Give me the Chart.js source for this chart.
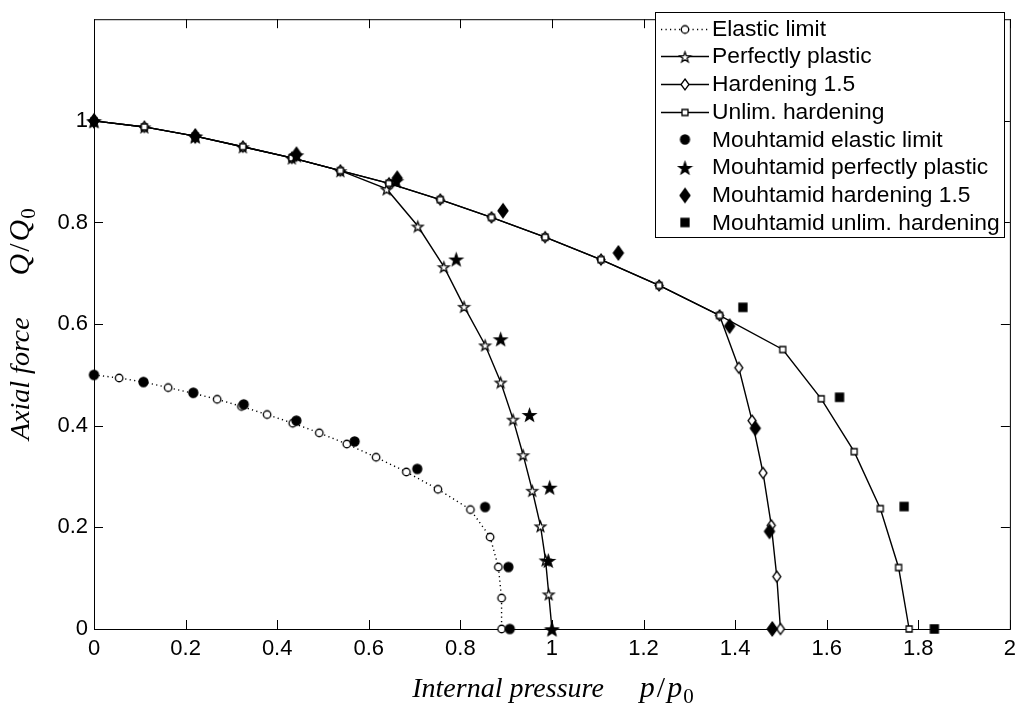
<!DOCTYPE html>
<html>
<head>
<meta charset="utf-8">
<script src="https://cdn.jsdelivr.net/npm/chart.js@4.4.0/dist/chart.umd.min.js"></script>
<style>
  html, body { margin: 0; padding: 0; background: #fff; }
  canvas { display: block; }
</style>
</head>
<body>
<canvas id="chart" width="1023" height="711"></canvas>
<script>
// Interaction curves: internal pressure p/p0 against axial force Q/Q0

const xTickValues = [0, 0.2, 0.4, 0.6, 0.8, 1, 1.2, 1.4, 1.6, 1.8, 2];
const yTickValues = [0, 0.2, 0.4, 0.6, 0.8, 1];

// Elastic limit (computed)
const elasticP = [0, 0.055, 0.108, 0.162, 0.216, 0.269, 0.322, 0.378, 0.434, 0.492, 0.552, 0.616, 0.682, 0.751, 0.822, 0.865, 0.883, 0.890, 0.890];
const elasticQ = [0.500, 0.494, 0.486, 0.475, 0.464, 0.452, 0.438, 0.422, 0.405, 0.386, 0.364, 0.338, 0.309, 0.275, 0.235, 0.181, 0.122, 0.061, 0];

// Perfectly plastic (computed)
const plasticP = [0, 0.110, 0.221, 0.325, 0.432, 0.538, 0.639, 0.707, 0.764, 0.808, 0.854, 0.888, 0.915, 0.937, 0.957, 0.975, 0.986, 0.993, 1.0];
const plasticQ = [1.0, 0.988, 0.970, 0.949, 0.927, 0.902, 0.866, 0.793, 0.713, 0.635, 0.559, 0.486, 0.413, 0.343, 0.273, 0.203, 0.136, 0.069, 0];

// Hardening 1.5 (computed)
const hard15P = [0, 0.110, 0.221, 0.325, 0.432, 0.538, 0.644, 0.756, 0.868, 0.985, 1.107, 1.234, 1.366, 1.408, 1.437, 1.461, 1.479, 1.491, 1.499];
const hard15Q = [1.0, 0.988, 0.970, 0.949, 0.927, 0.902, 0.877, 0.845, 0.810, 0.771, 0.727, 0.676, 0.617, 0.514, 0.410, 0.307, 0.204, 0.103, 0];

// Unlimited hardening (computed)
const unlimP = [0, 0.110, 0.221, 0.325, 0.432, 0.538, 0.644, 0.756, 0.868, 0.985, 1.107, 1.234, 1.366, 1.504, 1.588, 1.660, 1.717, 1.757, 1.780];
const unlimQ = [1.0, 0.988, 0.970, 0.949, 0.927, 0.902, 0.877, 0.845, 0.810, 0.771, 0.727, 0.676, 0.617, 0.550, 0.453, 0.349, 0.237, 0.121, 0];

// Mouhtamid reference results
const mElasticP = [0, 0.108, 0.217, 0.327, 0.442, 0.569, 0.706, 0.854, 0.905, 0.908];
const mElasticQ = [0.500, 0.486, 0.465, 0.442, 0.410, 0.369, 0.315, 0.240, 0.122, 0];

const mPlasticP = [0, 0.221, 0.442, 0.660, 0.791, 0.888, 0.951, 0.995, 0.992, 1.0];
const mPlasticQ = [1.0, 0.970, 0.933, 0.882, 0.728, 0.571, 0.422, 0.279, 0.135, 0];

const mHard15P = [0, 0.221, 0.442, 0.662, 0.893, 1.145, 1.388, 1.444, 1.475, 1.481];
const mHard15Q = [1.0, 0.970, 0.934, 0.887, 0.823, 0.740, 0.596, 0.395, 0.192, 0];

const mUnlimP = [1.417, 1.628, 1.769, 1.835];
const mUnlimQ = [0.633, 0.456, 0.241, 0];

const seriesLabels = [
  'Elastic limit', 'Perfectly plastic', 'Hardening 1.5', 'Unlim. hardening',
  'Mouhtamid elastic limit', 'Mouhtamid perfectly plastic', 'Mouhtamid hardening 1.5', 'Mouhtamid unlim. hardening'
];

const toPoints = (xs, ys) => xs.map((x, i) => ({ x: x, y: ys[i] }));

// Marker sprites used as point styles
function makeMarker(shape, filled, w, h) {
  const pad = 2;
  const c = document.createElement('canvas');
  c.width = Math.ceil(w + pad * 2);
  c.height = Math.ceil(h + pad * 2);
  const g = c.getContext('2d');
  const cx = c.width / 2, cy = c.height / 2;
  g.beginPath();
  if (shape === 'circle') {
    g.arc(cx, cy, w / 2, 0, Math.PI * 2);
  } else if (shape === 'square') {
    g.rect(cx - w / 2, cy - h / 2, w, h);
  } else if (shape === 'diamond') {
    g.moveTo(cx, cy - h / 2);
    g.lineTo(cx + w / 2, cy);
    g.lineTo(cx, cy + h / 2);
    g.lineTo(cx - w / 2, cy);
    g.closePath();
  } else if (shape === 'star') {
    const R = w / 2, r = R * 0.40;
    for (let k = 0; k < 10; k++) {
      const rad = (k % 2 === 0) ? R : r;
      const a = -Math.PI / 2 + k * Math.PI / 5;
      const px = cx + rad * Math.cos(a), py = cy + 1 + rad * Math.sin(a);
      if (k === 0) g.moveTo(px, py); else g.lineTo(px, py);
    }
    g.closePath();
  }
  g.fillStyle = filled ? '#000' : '#fff';
  g.fill();
  g.lineWidth = 1.3;
  g.strokeStyle = '#000';
  g.stroke();
  return c;
}

const mk = {
  openCircle: makeMarker('circle', false, 7.5, 7.5),
  openStar: makeMarker('star', false, 11, 11),
  openDiamond: makeMarker('diamond', false, 8, 11),
  openSquare: makeMarker('square', false, 6, 6),
  fillCircle: makeMarker('circle', true, 9, 9),
  fillStar: makeMarker('star', true, 13, 13),
  fillDiamond: makeMarker('diamond', true, 10, 14),
  fillSquare: makeMarker('square', true, 8, 8)
};

function lineSet(label, xs, ys, marker, dash, order) {
  return {
    label: label,
    data: toPoints(xs, ys),
    showLine: true,
    borderColor: '#000',
    borderWidth: 1.4,
    borderDash: dash,
    pointStyle: marker,
    pointRadius: 5,
    pointHoverRadius: 5,
    backgroundColor: '#000',
    clip: false,
    order: order
  };
}

function pointSet(label, xs, ys, marker, order) {
  return {
    label: label,
    data: toPoints(xs, ys),
    showLine: false,
    borderColor: '#000',
    backgroundColor: '#000',
    pointStyle: marker,
    pointRadius: 6,
    pointHoverRadius: 6,
    clip: false,
    order: order
  };
}

const datasets = [
  lineSet(seriesLabels[0], elasticP, elasticQ, mk.openCircle, [1.2, 3.3], 8),
  lineSet(seriesLabels[1], plasticP, plasticQ, mk.openStar, [], 7),
  lineSet(seriesLabels[2], hard15P, hard15Q, mk.openDiamond, [], 6),
  lineSet(seriesLabels[3], unlimP, unlimQ, mk.openSquare, [], 5),
  pointSet(seriesLabels[4], mElasticP, mElasticQ, mk.fillCircle, 4),
  pointSet(seriesLabels[5], mPlasticP, mPlasticQ, mk.fillStar, 3),
  pointSet(seriesLabels[6], mHard15P, mHard15Q, mk.fillDiamond, 2),
  pointSet(seriesLabels[7], mUnlimP, mUnlimQ, mk.fillSquare, 1)
];

const SANS = '"Liberation Sans", Arial, Helvetica, sans-serif';
const SERIF = '"Liberation Serif", "Times New Roman", Times, serif';

// Axes box with inward ticks on all four sides
const frameAndTicks = {
  id: 'frameAndTicks',
  beforeDatasetsDraw(chart) {
    const { ctx, chartArea: a, scales } = chart;
    const L = 9;
    ctx.save();
    ctx.strokeStyle = '#000';
    ctx.lineWidth = 1;
    ctx.beginPath();
    xTickValues.forEach(v => {
      const px = Math.round(scales.x.getPixelForValue(v)) + 0.5;
      ctx.moveTo(px, a.bottom); ctx.lineTo(px, a.bottom - L);
      ctx.moveTo(px, a.top); ctx.lineTo(px, a.top + L);
    });
    yTickValues.forEach(v => {
      const py = Math.round(scales.y.getPixelForValue(v)) + 0.5;
      ctx.moveTo(a.left, py); ctx.lineTo(a.left + L, py);
      ctx.moveTo(a.right, py); ctx.lineTo(a.right - L, py);
    });
    ctx.stroke();
    ctx.strokeRect(a.left + 0.5, a.top + 0.5, a.right - a.left, a.bottom - a.top);
    ctx.restore();
  }
};

// Axis titles: italic words followed by a math ratio with a subscript
function drawTitle(ctx, words, sym, gap, cx, baseline) {
  const wordFont = 'italic 28px ' + SERIF;
  const symFont = 'italic 30px ' + SERIF;
  const slashFont = '30px ' + SERIF;
  const subFont = '21px ' + SERIF;
  ctx.font = wordFont;
  const wWords = ctx.measureText(words).width;
  ctx.font = symFont;
  const wSym = ctx.measureText(sym).width;
  ctx.font = slashFont;
  const wSlash = ctx.measureText('/').width;
  ctx.font = subFont;
  const wSub = ctx.measureText('0').width;
  const total = wWords + gap + wSym + 2 + wSlash + 2 + wSym + 1 + wSub;
  let x = cx - total / 2;
  ctx.textBaseline = 'alphabetic';
  ctx.textAlign = 'left';
  ctx.font = wordFont;
  ctx.fillText(words, x, baseline);
  x += wWords + gap;
  ctx.font = symFont;
  ctx.fillText(sym, x, baseline);
  x += wSym + 2;
  ctx.font = slashFont;
  ctx.fillText('/', x, baseline);
  x += wSlash + 2;
  ctx.font = symFont;
  ctx.fillText(sym, x, baseline);
  x += wSym + 1;
  ctx.font = subFont;
  ctx.fillText('0', x, baseline + 6);
}

const titlesAndLegend = {
  id: 'titlesAndLegend',
  afterDraw(chart) {
    const { ctx, chartArea: a } = chart;
    ctx.save();
    ctx.fillStyle = '#000';
    drawTitle(ctx, 'Internal pressure', 'p', 36, (a.left + a.right) / 2 + 1, 697);
    ctx.save();
    ctx.translate(29, (a.top + a.bottom) / 2);
    ctx.rotate(-Math.PI / 2);
    drawTitle(ctx, 'Axial force', 'Q', 42, 0, 0);
    ctx.restore();

    // Legend box
    const box = { left: 655, top: 12, right: 1004, bottom: 237 };
    ctx.fillStyle = '#fff';
    ctx.fillRect(box.left, box.top, box.right - box.left, box.bottom - box.top);
    ctx.strokeStyle = '#000';
    ctx.lineWidth = 1;
    ctx.strokeRect(box.left + 0.5, box.top + 0.5, box.right - box.left, box.bottom - box.top);

    const rowH = 27.7;
    const x0 = 661, x1 = 709, xm = 685, xt = 712;
    ctx.font = '22.8px ' + SANS;
    ctx.textBaseline = 'middle';
    ctx.textAlign = 'left';
    chart.data.datasets.forEach((ds, i) => {
      const y = box.top + 16.5 + i * rowH;
      if (ds.showLine) {
        ctx.save();
        ctx.strokeStyle = '#000';
        ctx.lineWidth = ds.borderWidth;
        ctx.setLineDash(ds.borderDash || []);
        ctx.beginPath();
        ctx.moveTo(x0, Math.round(y) + 0.5);
        ctx.lineTo(x1, Math.round(y) + 0.5);
        ctx.stroke();
        ctx.restore();
      }
      Chart.helpers.drawPoint(ctx, { pointStyle: ds.pointStyle, radius: 5, rotation: 0, borderWidth: 1 }, xm, Math.round(y) + 0.5);
      ctx.fillStyle = '#000';
      ctx.fillText(ds.label, xt, y + 1);
    });
    ctx.restore();
  }
};

new Chart(document.getElementById('chart'), {
  type: 'scatter',
  data: { datasets: datasets },
  options: {
    responsive: false,
    devicePixelRatio: 1,
    animation: false,
    events: [],
    layout: { padding: { top: 4, right: 12, left: 0, bottom: 0 } },
    plugins: {
      legend: { display: false },
      tooltip: { enabled: false },
      title: { display: false }
    },
    scales: {
      x: {
        type: 'linear',
        min: 0,
        max: 2,
        afterBuildTicks: s => { s.ticks = xTickValues.map(v => ({ value: v })); },
        afterFit: s => { s.height = 82; },
        grid: { display: false, drawTicks: false },
        border: { display: false },
        ticks: {
          color: '#000',
          font: { family: SANS, size: 22 },
          padding: 7,
          maxRotation: 0,
          autoSkip: false,
          callback: v => String(Math.round(v * 10) / 10)
        }
      },
      y: {
        type: 'linear',
        min: 0,
        max: 1.2,
        afterBuildTicks: s => { s.ticks = yTickValues.map(v => ({ value: v })); },
        afterFit: s => { s.width = 94; },
        grid: { display: false, drawTicks: false },
        border: { display: false },
        ticks: {
          color: '#000',
          font: { family: SANS, size: 22 },
          padding: 6,
          autoSkip: false,
          callback: v => String(Math.round(v * 10) / 10)
        }
      }
    }
  },
  plugins: [frameAndTicks, titlesAndLegend]
});
</script>
</body>
</html>
